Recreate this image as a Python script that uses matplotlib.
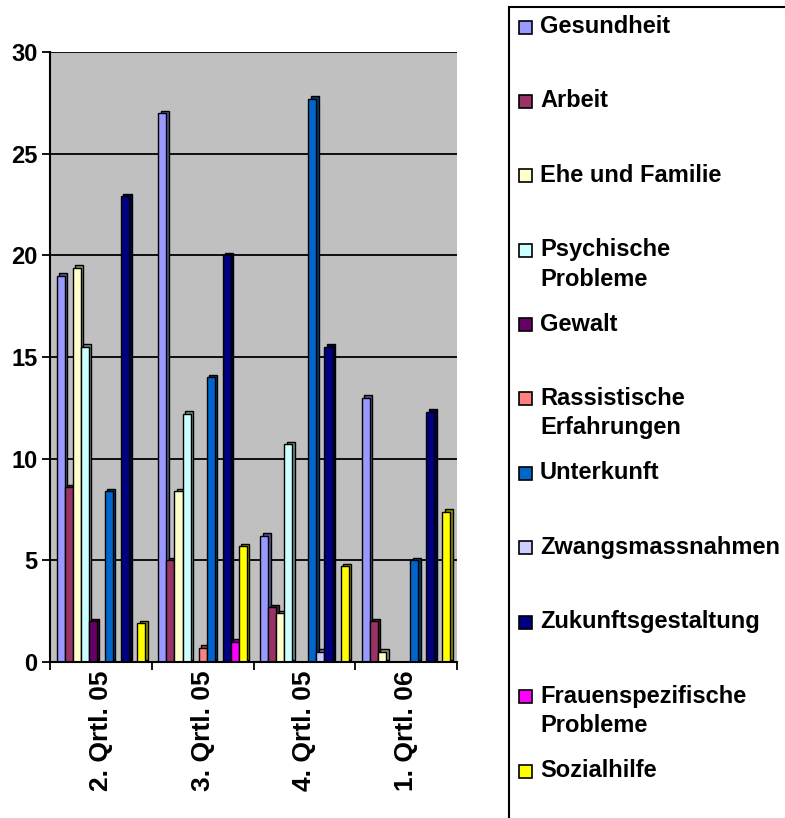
import matplotlib
matplotlib.use("Agg")
import matplotlib.pyplot as plt
import matplotlib.transforms as mtransforms
from matplotlib.patches import Rectangle
import numpy as np

categories = ["2. Qrtl. 05", "3. Qrtl. 05", "4. Qrtl. 05", "1. Qrtl. 06"]
series_names = ["Gesundheit", "Arbeit", "Ehe und Familie", "Psychische\nProbleme", "Gewalt",
                "Rassistische\nErfahrungen", "Unterkunft", "Zwangsmassnahmen",
                "Zukunftsgestaltung", "Frauenspezifische\nProbleme", "Sozialhilfe"]
gesundheit = [19.0, 27.0, 6.2, 13.0]
arbeit = [8.6, 5.0, 2.7, 2.0]
ehe = [19.4, 8.4, 2.4, 0.5]
psychische = [15.5, 12.2, 10.7, 0.0]
gewalt = [2.0, 0.0, 0.0, 0.0]
rassistische = [0.0, 0.7, 0.0, 0.0]
unterkunft = [8.4, 14.0, 27.7, 5.0]
zwangs = [0.0, 0.0, 0.5, 0.0]
zukunft = [22.9, 20.0, 15.5, 12.3]
frauen = [0.0, 1.0, 0.0, 0.0]
sozialhilfe = [1.9, 5.7, 4.7, 7.4]
series_values = [gesundheit, arbeit, ehe, psychische, gewalt, rassistische,
                 unterkunft, zwangs, zukunft, frauen, sozialhilfe]
colors = ["#9999FF", "#993366", "#FFFFCC", "#CCFFFF", "#660066", "#FF8080",
          "#0066CC", "#CCCCFF", "#000080", "#FF00FF", "#FFFF00"]
yticks = [0, 5, 10, 15, 20, 25, 30]

W, H = 785, 818
fig = plt.figure(figsize=(W / 100, H / 100), dpi=100)
plt.rcParams['font.family'] = ['Liberation Sans', 'DejaVu Sans']

L, R, T, B = 50, 457, 52, 662
ax = fig.add_axes([L / W, 1 - B / H, (R - L) / W, (B - T) / H])
ax.set_facecolor("#C0C0C0")

n = len(series_values)
x = np.arange(len(categories))
bw = 0.079
offset_tr = ax.transData + mtransforms.ScaledTranslation(2.5 / 100, 2.5 / 100, fig.dpi_scale_trans)

def darker(c, f=0.55):
    rgb = np.array(matplotlib.colors.to_rgb(c))
    return tuple(rgb * f)

for i, (vals, col) in enumerate(zip(series_values, colors)):
    pos = x + (i - (n - 1) / 2) * bw
    vals = np.array(vals)
    mask = vals > 0
    ax.bar(pos[mask], vals[mask], width=bw, color=darker(col), edgecolor="black",
           linewidth=1.0, transform=offset_tr, zorder=3)
    ax.bar(pos[mask], vals[mask], width=bw, color=col, edgecolor="black",
           linewidth=1.0, zorder=4)

ax.set_xlim(-0.5, len(categories) - 0.5)
ax.set_ylim(0, 30)
ax.set_yticks(yticks)
ax.set_yticklabels([str(v) for v in yticks], fontsize=17, fontweight="bold")
ax.yaxis.grid(True, color="black", linewidth=1.3)
ax.set_axisbelow(True)
ax.set_xticks(x)
ax.set_xticklabels(categories, rotation=90, fontsize=19, fontweight="bold")
ax.tick_params(axis="x", which="major", length=0, pad=6)
ax.set_xticks(np.arange(len(categories) + 1) - 0.5, minor=True)
ax.tick_params(axis="x", which="minor", length=6, width=1.3, direction="out")
ax.tick_params(axis="y", length=6, width=1.3, direction="out", pad=3)
for s in ["top", "right"]:
    ax.spines[s].set_visible(False)
for s in ["left", "bottom"]:
    ax.spines[s].set_linewidth(1.5)
    ax.spines[s].set_zorder(5)

# legend box
fig.patches.append(Rectangle((509 / W, -0.05), 0.5, 1 - 7 / H + 0.05,
                             transform=fig.transFigure, facecolor="white",
                             edgecolor="black", linewidth=1.5, zorder=1))
y0, dy = 27, 74.4
for i, (name, col) in enumerate(zip(series_names, colors)):
    yc = y0 + i * dy
    fig.patches.append(Rectangle((519 / W, 1 - (yc + 6.5) / H), 13 / W, 13 / H,
                                 transform=fig.transFigure, facecolor=col,
                                 edgecolor="black", linewidth=1.2, zorder=2))
    fig.text(540 / W, 1 - (yc - 12) / H, name, fontsize=17, fontweight="bold",
             va="top", ha="left", linespacing=1.35, zorder=3)

fig.savefig("out.png", dpi=100)
